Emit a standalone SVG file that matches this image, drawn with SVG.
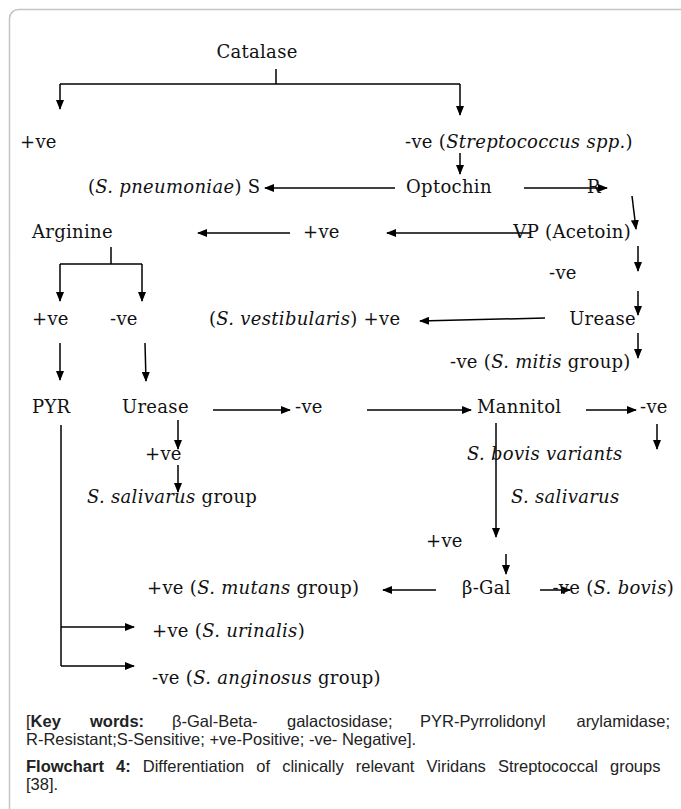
<svg xmlns="http://www.w3.org/2000/svg" width="681" height="809" viewBox="0 0 681 809">
<defs>
<marker id="ah" markerWidth="10" markerHeight="8" refX="9" refY="4" orient="auto" markerUnits="userSpaceOnUse">
<path d="M0,0 L10,4 L0,8 Z" fill="#000"/>
</marker>
<style>
.t{font-family:"DejaVu Serif","Liberation Serif",serif;font-size:18px;letter-spacing:0.3px;fill:#111}
.i{font-style:italic}
.f{font-family:"Liberation Sans",Arial,sans-serif;font-size:16.5px;fill:#222}
.b{font-weight:bold}
.c line,.c path{stroke:#000;stroke-width:1.5;fill:none}
.a{marker-end:url(#ah)}
</style>
</defs>
<rect width="681" height="809" fill="#fff"/>
<rect x="9.5" y="9.5" width="700" height="850" rx="9" fill="none" stroke="#c4c4c4" stroke-width="1.5"/>

<g class="c" id="connectors">
<line x1="276" y1="69" x2="276" y2="84"/>
<line x1="60" y1="84" x2="460" y2="84"/>
<line class="a" x1="60" y1="84" x2="60" y2="109"/>
<line class="a" x1="460" y1="84" x2="460" y2="115"/>
<line class="a" x1="460" y1="153" x2="460" y2="174"/>
<line class="a" x1="395" y1="188" x2="265" y2="188"/>
<line class="a" x1="524" y1="188" x2="607" y2="188"/>
<line class="a" x1="632" y1="196" x2="636" y2="229"/>
<line class="a" x1="290" y1="233" x2="198" y2="233"/>
<line class="a" x1="530" y1="233" x2="387" y2="233"/>
<line x1="111" y1="247" x2="111" y2="264"/>
<line x1="60" y1="264" x2="142" y2="264"/>
<line class="a" x1="60" y1="264" x2="60" y2="301"/>
<line class="a" x1="142" y1="264" x2="142" y2="301"/>
<line class="a" x1="638" y1="246" x2="638" y2="271"/>
<line class="a" x1="638" y1="291" x2="638" y2="315"/>
<line class="a" x1="545" y1="318" x2="420" y2="321"/>
<line class="a" x1="638" y1="333" x2="638" y2="358"/>
<line class="a" x1="60" y1="343" x2="60" y2="380"/>
<line class="a" x1="145" y1="343" x2="146" y2="381"/>
<line class="a" x1="213" y1="410" x2="290" y2="410"/>
<line class="a" x1="367" y1="410" x2="471" y2="410"/>
<line class="a" x1="586" y1="410" x2="636" y2="410"/>
<line class="a" x1="657" y1="424" x2="657" y2="449"/>
<line class="a" x1="178" y1="420" x2="178" y2="449"/>
<line class="a" x1="178" y1="465" x2="178" y2="492"/>
<line x1="61" y1="425" x2="61" y2="666"/>
<line class="a" x1="496" y1="423" x2="496" y2="537"/>
<line class="a" x1="506" y1="554" x2="506" y2="574"/>
<line class="a" x1="436" y1="590" x2="383" y2="590"/>
<line class="a" x1="540" y1="590" x2="570" y2="590"/>
<line class="a" x1="61" y1="627" x2="134" y2="627"/>
<line class="a" x1="61" y1="666" x2="134" y2="666"/>
</g>

<g id="catalase"><text class="t" x="257" y="58" text-anchor="middle">Catalase</text></g>
<g id="cat-pos"><text class="t" x="20" y="148">+ve</text></g>
<g id="cat-neg"><text class="t" x="405" y="148">-ve (<tspan class="i">Streptococcus spp.</tspan>)</text></g>
<g id="pneumoniae"><text class="t" x="88" y="193">(<tspan class="i">S. pneumoniae</tspan>) S</text></g>
<g id="optochin"><text class="t" x="406" y="193">Optochin</text></g>
<g id="opt-r"><text class="t" x="587" y="193">R</text></g>
<g id="arginine"><text class="t" x="32" y="238">Arginine</text></g>
<g id="vp-pos"><text class="t" x="303" y="238">+ve</text></g>
<g id="vp"><text class="t" x="631" y="238" text-anchor="end">VP (Acetoin)</text></g>
<g id="vp-neg"><text class="t" x="549" y="279">-ve</text></g>
<g id="arg-pos"><text class="t" x="32" y="325">+ve</text></g>
<g id="arg-neg"><text class="t" x="110" y="325">-ve</text></g>
<g id="vestibularis"><text class="t" x="209" y="325">(<tspan class="i">S. vestibularis</tspan>) +ve</text></g>
<g id="urease1"><text class="t" x="636" y="325" text-anchor="end">Urease</text></g>
<g id="mitis"><text class="t" x="450" y="368">-ve (<tspan class="i">S. mitis</tspan> group)</text></g>
<g id="pyr"><text class="t" x="32" y="413">PYR</text></g>
<g id="urease2"><text class="t" x="122" y="413">Urease</text></g>
<g id="ur2-neg"><text class="t" x="295" y="413">-ve</text></g>
<g id="mannitol"><text class="t" x="477" y="413">Mannitol</text></g>
<g id="man-neg"><text class="t" x="640" y="413">-ve</text></g>
<g id="ur2-pos"><text class="t" x="145" y="460">+ve</text></g>
<g id="salivarus-group"><text class="t" x="87" y="503"><tspan class="i">S. salivarus</tspan> group</text></g>
<g id="bovis-variants"><text class="t i" x="467" y="460">S. bovis variants</text></g>
<g id="salivarus"><text class="t i" x="511" y="503">S. salivarus</text></g>
<g id="man-pos"><text class="t" x="426" y="547">+ve</text></g>
<g id="bgal"><text class="t" x="462" y="594">β-Gal</text></g>
<g id="mutans"><text class="t" x="147" y="594">+ve (<tspan class="i">S. mutans</tspan> group)</text></g>
<g id="bovis"><text class="t" x="674" y="594" text-anchor="end">-ve (<tspan class="i">S. bovis</tspan>)</text></g>
<g id="urinalis"><text class="t" x="152" y="637">+ve (<tspan class="i">S. urinalis</tspan>)</text></g>
<g id="anginosus"><text class="t" x="152" y="684">-ve (<tspan class="i">S. anginosus</tspan> group)</text></g>

<g id="caption">
<text class="f" y="727"><tspan x="26">[<tspan class="b">Key</tspan></tspan><tspan x="90" class="b">words:</tspan><tspan x="172">β-Gal-Beta-</tspan><tspan x="287">galactosidase;</tspan><tspan x="420">PYR-Pyrrolidonyl</tspan></text>
<text class="f" x="670" y="727" text-anchor="end">arylamidase;</text>
<text class="f" x="26" y="745">R-Resistant;S-Sensitive; +ve-Positive; -ve- Negative].</text>
<text class="f" x="26" y="772" word-spacing="7.5"><tspan class="b">Flowchart 4:</tspan> Differentiation of clinically relevant Viridans Streptococcal groups</text>
<text class="f" x="26" y="790">[38].</text>
</g>
</svg>
